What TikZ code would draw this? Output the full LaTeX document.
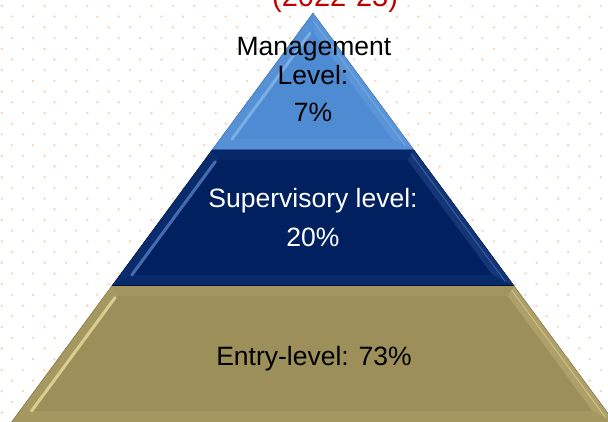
\documentclass[tikz,border=0pt]{standalone}
\usepackage{fontspec}
\setmainfont{Liberation Sans}
\usepackage{tikz}
\usetikzlibrary{calc}
\definecolor{dotorange}{RGB}{248,200,165}
\definecolor{titlered}{RGB}{192,0,0}
\definecolor{blueBase}{RGB}{79,139,210}
\definecolor{blueLight}{RGB}{135,185,238}
\definecolor{blueDark}{RGB}{45,90,160}
\definecolor{navyBase}{RGB}{0,32,96}
\definecolor{navyLight}{RGB}{90,130,200}
\definecolor{navyDark}{RGB}{0,18,55}
\definecolor{khakiBase}{RGB}{156,143,89}
\definecolor{khakiLight}{RGB}{235,224,160}
\definecolor{khakiDark}{RGB}{100,90,50}
\tikzset{
    bg dot/.style={dotorange, opacity=0.8},
    level text/.style={anchor=base, inner sep=0pt, font=\fontsize{26.5}{31}\selectfont},
    dark text/.style={level text, black},
    light text/.style={level text, white},
    title text/.style={anchor=base west, inner sep=0pt, titlered, font=\fontsize{29}{34}\selectfont}
}
% one bevelled band of the pyramid: top y, bottom y, base, light, dark
\newcommand{\pyrlayer}[5]{%
    \pgfmathsetmacro{\wt}{0.737*(#1-13)}
    \pgfmathsetmacro{\wb}{0.737*(#2-13)}
    \pgfmathsetmacro{\ti}{max(#1+10,33)}
    \pgfmathsetmacro{\bi}{#2-11}
    \pgfmathsetmacro{\wti}{max(0.737*(\ti-13)-14,0)}
    \pgfmathsetmacro{\wbi}{0.737*(\bi-13)-14}
    \coordinate (tl) at (313-\wt,#1);
    \coordinate (tr) at (313+\wt,#1);
    \coordinate (bl) at (313-\wb,#2);
    \coordinate (br) at (313+\wb,#2);
    \coordinate (itl) at (313-\wti,\ti);
    \coordinate (itr) at (313+\wti,\ti);
    \coordinate (ibl) at (313-\wbi,\bi);
    \coordinate (ibr) at (313+\wbi,\bi);
    \fill[#3] (tl) -- (tr) -- (br) -- (bl) -- cycle;
    \fill[#3!88!#4] (tl) -- (itl) -- (ibl) -- (bl) -- cycle;
    \fill[#3!92!#4] (tl) -- (tr) -- (itr) -- (itl) -- cycle;
    \fill[#3!78!#4] (tr) -- (br) -- (ibr) -- (itr) -- cycle;
    \fill[#3!90!#4] (bl) -- (br) -- (ibr) -- (ibl) -- cycle;
    \fill[#3] (itl) -- (itr) -- (ibr) -- (ibl) -- cycle;
    % light streak on the left bevel
    \draw[#4, line width=3pt, line cap=round, opacity=0.75,
        shorten <=2pt, shorten >=4pt] ($(ibl)!0.15!(bl)$) -- ($(itl)!0.15!(tl)$);
    \draw[#4, line width=1pt, opacity=0.5] ($(ibr)!0.6!(br)$) -- ($(itr)!0.6!(tr)$);
    \draw[#5, line width=1pt] (bl) -- (br);
    \draw[#5!60!#3, thin] (tl) -- (bl) (tr) -- (br);
}

\begin{document}
\begin{tikzpicture}[x=1pt,y=-1pt]
    \useasboundingbox (0,0) rectangle (608,422);
    \clip (0,0) rectangle (608,422);
    \fill[white] (0,0) rectangle (608,422);
    % dotted background
    \foreach \r in {0,...,39}
        \foreach \c in {0,...,28}
            \fill[bg dot] ({1.7+21.4*\c+10*mod(\r,2)},{6+10.7*\r}) circle (1.3);

    \node[title text] (title) at (272,7) {(2022-23)};

    \pyrlayer{286}{422}{khakiBase}{khakiLight}{khakiDark}
    \pyrlayer{150}{286}{navyBase}{navyLight}{navyDark}
    \pyrlayer{13}{150}{blueBase}{blueLight}{blueDark}

    \node[dark text] (mgmt) at (314,56) {Management};
    \node[dark text] (mgmtlvl) at (313,85) {Level:};
    \node[dark text] (mgmtpct) at (313,122) {7\%};
    \node[light text] (sup) at (313,208) {Supervisory level:};
    \node[light text] (suppct) at (313,247) {20\%};
    \node[dark text] (entry) at (314,365) {Entry-level: 73\%};
\end{tikzpicture}
\end{document}
